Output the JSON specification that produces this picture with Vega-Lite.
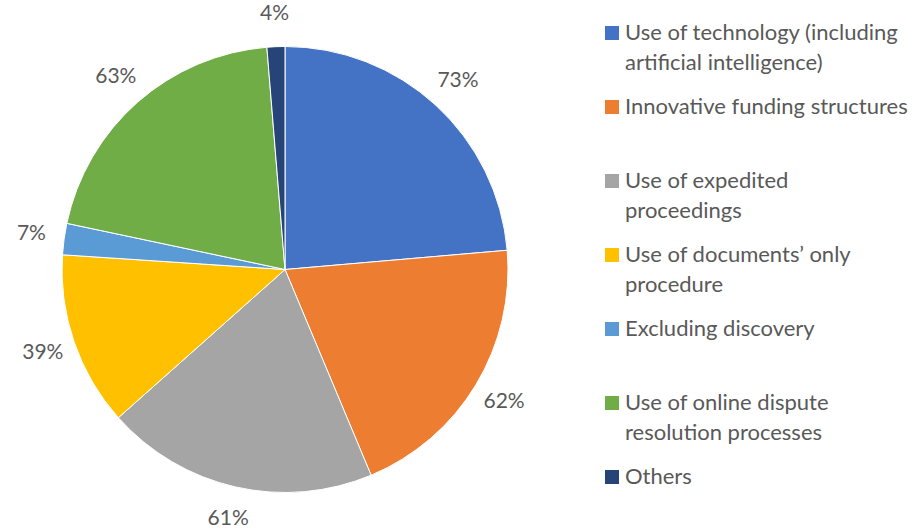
{
  "$schema": "https://vega.github.io/schema/vega-lite/v6.json",
  "width": 570,
  "height": 529,
  "autosize": {"type": "none"},
  "padding": {"left": 0, "top": 5, "right": 346, "bottom": 0},
  "background": "white",
  "data": {"values": [
    {"idx": 1, "category": "Use of technology (including|artificial intelligence)", "value": 73, "label": "73%"},
    {"idx": 2, "category": "Innovative funding structures| ", "value": 62, "label": "62%"},
    {"idx": 3, "category": "Use of expedited|proceedings", "value": 61, "label": "61%"},
    {"idx": 4, "category": "Use of documents’ only|procedure", "value": 39, "label": "39%"},
    {"idx": 5, "category": "Excluding discovery| ", "value": 7, "label": "7%"},
    {"idx": 6, "category": "Use of online dispute|resolution processes", "value": 63, "label": "63%"},
    {"idx": 7, "category": "Others| ", "value": 4, "label": "4%"}
  ]},
  "encoding": {
    "theta": {"field": "value", "type": "quantitative", "stack": true},
    "order": {"field": "idx", "type": "quantitative"}
  },
  "layer": [
    {
      "mark": {"type": "arc", "outerRadius": 223, "stroke": "white", "strokeWidth": 1},
      "encoding": {
        "color": {
          "field": "category", "type": "nominal",
          "sort": {"field": "idx"},
          "scale": {
            "domain": ["Use of technology (including|artificial intelligence)", "Innovative funding structures| ", "Use of expedited|proceedings", "Use of documents’ only|procedure", "Excluding discovery| ", "Use of online dispute|resolution processes", "Others| "],
            "range": ["#4472C4", "#ED7D31", "#A5A5A5", "#FFC000", "#5B9BD5", "#70AD47", "#264478"]
          },
          "legend": {
            "title": null,
            "orient": "none",
            "legendX": 601,
            "legendY": 17,
            "symbolType": "square",
            "symbolSize": 196,
            "symbolStrokeWidth": 0,
            "labelFont": "Lato",
            "labelFontSize": 22,
            "labelColor": "#595959",
            "labelLimit": 400,
            "labelOffset": 2,
            "labelExpr": "split(datum.label, '|')",
            "rowPadding": 22
          }
        }
      }
    },
    {
      "mark": {"type": "text", "radius": 256, "font": "Lato", "fontSize": 21, "color": "#595959"},
      "encoding": {
        "text": {"field": "label", "type": "nominal"}
      }
    }
  ],
  "config": {
    "view": {"stroke": null},
    "style": {"guide-label": {"lineHeight": 30}}
  }
}
